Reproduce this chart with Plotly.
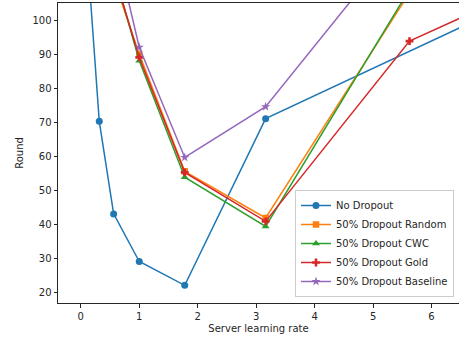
import plotly.graph_objects as go

# Server learning rates (log-spaced) and rounds to reach target accuracy
lr_no_dropout = [0.1, 0.316, 0.562, 1.0, 1.778, 3.162, 10.0]
rounds_no_dropout = [122, 70.2, 43, 29, 22, 71, 126]

lr_dropout = [0.562, 1.0, 1.778, 3.162, 5.623]
rounds_random = [112, 90, 55.5, 41.8, 108]
rounds_cwc = [114.5, 88, 53.8, 39.3, 109]
rounds_baseline = [124, 92, 59.6, 74.5, 127]

lr_gold = [0.562, 1.0, 1.778, 3.162, 5.623, 10.0]
rounds_gold = [114, 89, 55.2, 40.8, 93.8, 128]

x_ticks = [0, 1, 2, 3, 4, 5, 6]
y_ticks = [20, 30, 40, 50, 60, 70, 80, 90, 100]

series = [
    ("No Dropout", lr_no_dropout, rounds_no_dropout, "#1f77b4", "circle", 7),
    ("50% Dropout Random", lr_dropout, rounds_random, "#ff7f0e", "square", 6.5),
    ("50% Dropout CWC", lr_dropout, rounds_cwc, "#2ca02c", "triangle-up", 7),
    ("50% Dropout Gold", lr_gold, rounds_gold, "#d62728", "cross", 6.5),
    ("50% Dropout Baseline", lr_dropout, rounds_baseline, "#9467bd", "star", 7),
]

fig = go.Figure()
for name, xs, ys, color, symbol, size in series:
    fig.add_trace(go.Scatter(
        x=xs, y=ys, name=name, mode="lines+markers",
        line=dict(color=color, width=1.5),
        marker=dict(color=color, symbol=symbol, size=size, line=dict(width=0)),
    ))

axis_font = dict(family="DejaVu Sans", size=10, color="#262626")
fig.update_layout(
    width=459, height=341,
    margin=dict(l=58, r=0, t=3, b=38),
    paper_bgcolor="white", plot_bgcolor="white",
    font=axis_font,
    showlegend=True,
    legend=dict(
        x=0.9875, y=0.02, xanchor="right", yanchor="bottom",
        bgcolor="rgba(255,255,255,0.8)", bordercolor="#cccccc", borderwidth=1,
        font=dict(family="DejaVu Sans", size=10, color="#262626"),
        itemwidth=30,
    ),
    xaxis=dict(
        range=[-0.39, 6.47], tickvals=x_ticks, showgrid=False, zeroline=False,
        showline=True, linecolor="#262626", linewidth=1, mirror=True,
        ticks="outside", ticklen=3.5, tickcolor="#262626",
        title=dict(text="Server learning rate", standoff=4, font=axis_font),
    ),
    yaxis=dict(
        range=[16.8, 105], tickvals=y_ticks, showgrid=False, zeroline=False,
        showline=True, linecolor="#262626", linewidth=1,
        ticks="outside", ticklen=3.5, tickcolor="#262626",
        title=dict(text="Round", standoff=6, font=axis_font),
    ),
)

fig.write_html("out.html")
